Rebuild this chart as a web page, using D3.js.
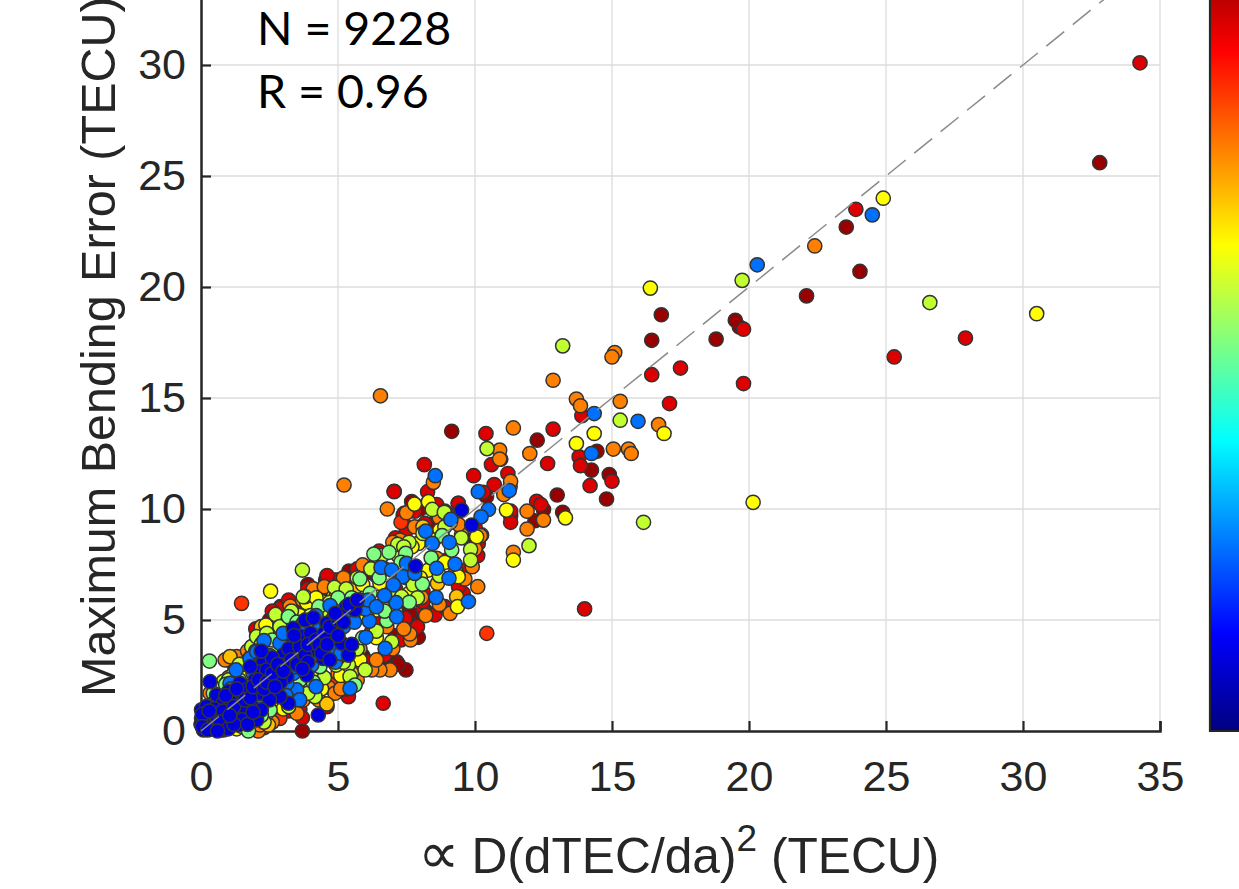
<!DOCTYPE html>
<html><head><meta charset="utf-8">
<script src="https://cdn.jsdelivr.net/npm/d3@7"></script>
<style>html,body{margin:0;padding:0;background:#fff;overflow:hidden}svg{display:block}</style>
</head><body><div id="chart"></div>
<script>
const xTicks=[0,5,10,15,20,25,30,35];
const yTicks=[0,5,10,15,20,25,30];
const annotations=["N = 9228","R = 0.96"];
const xLabel="D(dTEC/da)";
const yLabel="Maximum Bending Error (TECU)";
// Points per colour level, [x, y], painted in this order (reds lowest, blues on top)
const darkRed=[[32.8,25.6],[23.55,22.7],[24.05,20.7],[22.1,19.6],[19.65,18.2],[19.5,18.5],[18.8,17.65],[16.8,18.75],[16.45,17.6],[14.25,11.75],[14.9,11.55],[14.8,10.45],[14.45,12.6],[9.15,13.5],[12.27,13.1],[13,10.63],[12.5,9.98],[12.19,9.47],[7.05,10.8],[7.69,10.33],[7.38,9.73],[9.39,10.26],[10.42,10.56],[7.5,5.52],[7.69,5.15],[13.2,9.85],[4.55,6.8],[5.4,7.2],[3.7,0],[7.48,2.75],[7.93,4.22],[7.63,5.3],[4.46,6.13],[2.9,5.6],[5.9,3.4],[7.14,3.12],[11.3,9.7],[6.4,7.0],[3.9,6.6],[5,6.8],[6,7.1],[8,10],[8.4,9.3],[9.8,8.6],[8.2,5.4],[7.1,4.3],[6.6,3.1],[5.3,1.7],[2.5,5],[7.2,3]];
const red=[[34.27,30.1],[27.9,17.7],[25.3,16.85],[23.9,23.5],[19.8,18.1],[19.8,15.65],[17.5,16.35],[16.45,16.05],[17.1,14.75],[13.9,14.2],[13.8,12.35],[13.85,11.95],[15,11.25],[14.2,11.05],[14,5.5],[10.4,13.4],[12.85,13.6],[12.65,12.05],[10.6,12],[9.95,11.5],[8.15,12],[11.2,11.6],[10.7,11.1],[10.3,10.75],[12.25,10.35],[11.3,9.9],[11.3,9.4],[6.65,1.25],[7.05,10.78],[8.27,10.78],[7.41,9.8],[7.38,9.38],[7.5,9.05],[9.39,10.25],[10.24,8.83],[10.12,8.45],[5.38,1.55],[3.61,.98],[8.54,5.23],[8.1,5.5],[8.1,5.83],[7.45,5.08],[4.89,6.8],[2.88,5.53],[6.23,4.47],[6.1,3.12],[5.8,2.75],[5.07,1.85],[8.17,9.35],[9.57,6.2],[9.63,7.25],[8.97,7.7],[8.1,6.28],[12.4,10.2],[3.5,5.5],[4.2,1.6],[3.2,.9],[5.6,2.3],[6.6,4.9],[7.1,6.4],[1.9,.3],[2.7,.7],[1.2,3],[2,4.6],[2.6,5.4],[3.2,5.9],[3.9,6.4],[4.6,7],[5.7,7.3],[6.5,8.1],[7.1,8.7],[7.8,9.9],[8.6,10.2],[9.2,9.7],[10,9.2],[10.1,7.9],[9.4,6.5],[8.9,5.6],[7.9,4.7],[7.3,4.1],[6.7,3.4],[5.3,1.9],[4.6,1.1],[3.7,.6],[2.3,.15]];
const orangeRed=[[1.48,5.75],[10.43,4.4],[2.88,.57],[10.94,12.24],[11.28,11],[5.8,3.05],[4.9,2.3],[7.3,9.4],[8.9,9.9]];
const orange=[[22.4,21.85],[15.1,17.05],[15,16.85],[12.85,15.8],[15.3,14.85],[16.7,13.8],[13.7,14.95],[13.85,14.65],[15.05,12.7],[15.6,12.7],[15.7,12.5],[12,12.5],[10.9,12.65],[10.9,12.25],[11.4,13.65],[6.55,15.1],[5.22,11.08],[6.8,10],[11.3,11.25],[11.05,10.65],[11.9,9.9],[12.5,9.5],[11.9,9.1],[11.4,8.05],[7.5,9.83],[5.9,7.48],[3.25,5.63],[10.1,6.5],[9.09,5.3],[8.05,6.02],[8.6,7.78],[9.63,6.85],[9.51,8.86],[7.65,4.1],[7.62,4.37],[6.9,2.75],[6.53,2.75],[6.23,2.75],[6.78,4.7],[8.48,11.2],[4.65,1.97],[4.89,1.7],[5.8,3.72],[2.09,0],[.88,3.2],[5.44,6.5],[7.26,8.6],[.33,1.7],[3.73,1.4],[2.15,.27],[1.3,3.35],[2.76,1.1],[4.1,6.4],[6.2,7.3],[1.2,.2],[3.4,4.9],[5,2.6],[.5,1.4],[1,2.4],[1.7,3.6],[2.2,4.5],[2.8,5.1],[3.7,5.9],[4.5,6.5],[5.2,6.9],[6.4,7.8],[7,8.5],[7.8,9.2],[8.7,9.6],[9.4,9.3],[10,8.2],[9.3,7.2],[8.7,5.7],[8.2,5.2],[7.4,4.6],[7,3.7],[6.4,3.2],[5.7,2.3],[5.1,1.9],[4.3,1.4],[3.5,.8],[2.6,.4],[1.7,.1],[9.9,7.4],[10.2,8.8]];
const amber=[[1.06,3.35],[2.46,.27],[4.59,1.22],[8.63,6.65],[9.33,6.05],[3.25,1.4],[4.83,6.05],[6.78,5.6],[3.86,2],[3.9,5.5],[5.6,6.4],[7.5,6.9],[5.5,2.6],[2.2,4.7],[8.1,9.2],[6.2,5.4]];
const yellow=[[24.9,24],[30.5,18.8],[20.15,10.3],[16.4,19.95],[16.9,13.4],[14.35,13.4],[13.7,12.95],[11.15,9.95],[13.3,9.6],[11.4,7.7],[7.79,10.22],[8.3,10.33],[2.54,6.3],[2.37,4.77],[3.86,5.78],[3.8,6.05],[7.93,8.45],[10.06,8.75],[9.36,5.6],[6.41,5.45],[4.4,5.83],[4.95,6.13],[8.72,9.05],[9.39,6.95],[6.53,6.65],[4.34,2.45],[8.3,7.25],[2.76,1.4],[2.4,.95],[4.04,4.7],[6.05,5.15],[5.2,2.9],[5.68,3.5],[3.3,3],[1.6,2.6],[.9,1.3],[1.2,2.6],[1.8,3.3],[2.5,4.2],[3,4.6],[3.6,5.2],[4.2,6],[4.6,5.5],[5.3,6.1],[5.9,6.6],[6.7,7.3],[7.2,7.9],[7.7,8.3],[8.5,8.6],[9.1,9.4],[8.9,7.6],[8,6.9],[7.6,6.2],[6.9,5.2],[6.4,4.2],[5.8,3.2],[5.1,2.5],[4.4,1.9],[3.6,1.5],[3,1],[2.1,.6],[1.3,.1]];
const yellowGreen=[[26.6,19.3],[19.75,20.3],[13.2,17.35],[15.3,14],[16.15,9.4],[10.44,12.72],[11.97,8.35],[3.7,7.25],[2.72,5.25],[4.87,6.47],[7.18,8.41],[7.59,8.5],[8.44,9.98],[8.88,9.85],[9.84,8.18],[9.84,7.7],[6.96,6.05],[7.75,6.58],[4.93,2.97],[5.38,2.97],[5.99,2.75],[6.96,4.02],[4.16,1.55],[5.44,2.45],[4.1,4.85],[1.85,3.8],[.81,2.22],[7.32,6.05],[2.88,4.7],[2.64,3.8],[2.03,4.25],[3.73,6.05],[2.88,1.7],[2.4,.8],[1.5,3],[3.5,2.1],[4.6,3.5],[1.2,.6],[5.2,5.3],[4.4,5.4],[1,2.3],[1.4,3],[2.2,3.9],[2.4,4.4],[3.2,4.3],[3.3,5.4],[4,5.2],[4.7,5.8],[5.3,6.4],[5.7,6.9],[6.2,7.3],[6.6,7.9],[7.4,8.3],[8.1,8.9],[8.9,9.2],[9.5,8.7],[8.7,7],[7.9,6],[7.1,5.4],[6.4,4.5],[5.7,3.7],[5.2,3.1],[4.5,2.4],[3.9,1.7],[3.2,1.1],[2.3,.4],[1.5,.2],[.5,1.9]];
const green=[[.31,3.15],[3.19,5.15],[5.8,6.85],[6.31,7.97],[6.86,8.05],[7.47,8],[8.08,6.62],[9.15,8.15],[6.78,4.97],[6.17,6.2],[5.62,2.07],[.45,1.7],[1.73,0],[3.61,2.3],[2.52,.95],[.82,.05],[4.34,2.9],[1.4,2.3],[2.3,2.1],[4.7,4.2],[1.75,.55],[.7,.9],[5.1,5],[3.1,3.8],[.9,2.1],[2,3.6],[2.6,4.1],[3.5,4.9],[4.3,5.6],[5,6],[5.5,6],[6.5,6.9],[7.3,7.6],[8.4,7.8],[8.8,8.8],[7.6,5.8],[6.7,5.4],[5.9,4.2],[5,3.3],[4.1,2.2],[3.1,1.4],[2.2,.7],[1,.2]];
const blue=[[24.5,23.25],[20.3,21],[14.35,14.3],[15.95,13.95],[14.25,12.5],[8.55,11.5],[10.12,10.78],[11.25,10.83],[10.49,9.98],[10.22,9.65],[9.12,9.53],[8.2,9],[8.44,8.45],[9.06,8.5],[6.57,7.37],[6.96,7.25],[7.5,7.55],[7.36,6.95],[7.02,6.58],[8.6,7.33],[9.27,7.52],[9.05,6.88],[8.58,6.02],[9.76,5.83],[7.12,5.78],[7.14,5.15],[6.72,3.72],[6.02,4.22],[6.14,4.95],[4.71,5.65],[2.3,4.07],[5.44,1.92],[4.2,2],[1.79,3.27],[1.28,2.75],[3.49,1.85],[4.95,4.92],[2.88,3.95],[2.03,3.57],[1.06,2.15],[3.13,2.15],[2.34,2],[1.55,1.4],[4.71,3.65],[4.04,2.97],[3.37,2.6],[.69,.8],[.75,1.45],[5.9,5.6],[6,5.5],[7.8,7.1],[3.9,3.2],[1.5,1.9],[1.9,2.6],[2.5,3.4],[2.7,2.9],[3.2,3.3],[3.6,3.6],[3.4,2.9],[4.1,3.4],[4.4,4.1],[4.3,4.6],[4.8,4.6],[5.2,4.7],[5.3,5.2],[5.6,4.9],[5.8,5.9],[6.1,5.9],[6.4,5.6],[6.7,6.1],[1.1,1.9],[2,1.3],[2.7,1.7],[3.1,1.6],[.4,1.2],[.9,.5],[1.4,.8],[2.2,3.1],[3,4.4],[3.7,4.8],[4.2,5.2],[4.9,3.1],[5.1,3.5],[3.6,1.4],[2.1,2.1]];
const darkBlue=[[9.51,9.95],[9.88,9.28],[7.83,7.43],[5.68,5.83],[5.62,5.45],[3.8,5],[4.59,4.85],[4.83,4.4],[3.37,4.62],[3.67,4.25],[5.13,3.95],[5.38,3.42],[4.46,3.27],[2.27,3.12],[3,3.42],[2.88,2.75],[2.15,2.67],[1.42,2.15],[1,1.77],[.57,1.62],[3.86,2.52],[3.19,1.25],[2.88,1.55],[4.28,.72],[2.03,.5],[1.67,.8],[1.06,.95],[.63,.2],[.02,.57],[.02,.95],[.33,2.22],[2.52,2.3],[1.97,2.3],[3.49,3.5],[3.98,3.87],[4.22,3.65],[3.37,3.95],[2.4,2.75],[3.13,2.45],[1.67,1.85],[2.15,1.7],[1.3,1.55],[.8,1.25],[.45,.8],[.33,.27],[.94,.35],[1.36,.27],[1.85,1.1],[.09,.05],[.2,1.1],[0,.3],[.5,.5],[1.2,.6],[1.5,1.1],[.3,.6],[.7,.05],[2.5,1.4],[2.9,2.2],[4,4.4],[3.1,3],[2.6,3.3],[1.8,2.9],[1.1,1.3],[.15,.15],[.1,.4],[.2,.8],[.4,.1],[.5,1],[.6,.6],[.8,.9],[.9,1.6],[1.2,1.1],[1.3,1.9],[1.5,.5],[1.6,1.4],[1.8,1.5],[1.9,2],[2.1,2.3],[2.3,1.9],[2.4,2.2],[2.6,2.6],[2.7,2],[2.8,3],[3,2.7],[3.2,3.7],[3.3,3.2],[3.5,3],[3.6,3.8],[3.8,3.4],[3.9,3.9],[4.2,4.1],[4.3,3.9],[4.5,4.4],[4.7,4.7],[5,4.3],[5.3,5.6],[5.4,5.7],[.05,.75],[.05,.2],[.3,.9],[.7,.4],[1,.1],[1.2,.3],[1.7,.3],[.25,.05],[.6,0],[1.05,.7],[2.2,.95],[1.9,.85],[3.9,3.1],[4.4,3.5],[4.6,3.9],[5,5],[5.2,4.9],[4.9,5.3],[4.1,5.1],[3.4,4.3],[5.5,3.9],[4.7,3.2],[3.7,2.8],[2.2,3.6],[5.7,5.9]];
const levels=[[darkRed,"#990000"],[red,"#dc0000"],[orangeRed,"#ff3300"],[orange,"#ff8000"],[amber,"#ffc000"],[yellow,"#ffff00"],[yellowGreen,"#c0ff30"],[green,"#80ff80"],[blue,"#0070ff"],[darkBlue,"#0000dc"]];
const jetStops=[[0,"#000080"],[.125,"#0000ff"],[.375,"#00ffff"],[.625,"#ffff00"],[.875,"#ff0000"],[1,"#800000"]];

const W=1239,H=889,ink="#262626",sans="'Liberation Sans',Arial,sans-serif";
const svg=d3.select("#chart").append("svg").attr("width",W).attr("height",H);
const x=d3.scaleLinear().domain([0,35]).range([201,1160]);
const y=d3.scaleLinear().domain([0,35]).range([731,-46]);

svg.append("g").selectAll("line").data(xTicks.slice(1)).join("line")
 .attr("x1",x).attr("x2",x).attr("y1",y(0)).attr("y2",0).attr("stroke","#dcdcdc").attr("stroke-width",1.3);
svg.append("g").selectAll("line").data(yTicks.slice(1)).join("line")
 .attr("y1",y).attr("y2",y).attr("x1",x(0)).attr("x2",x(35)).attr("stroke","#dcdcdc").attr("stroke-width",1.3);

const xAxis=svg.append("g").attr("transform",`translate(0,${y(0)})`)
 .call(d3.axisBottom(x).tickValues(xTicks).tickFormat(d3.format("d")).tickSize(-10).tickPadding(29));
const yAxis=svg.append("g").attr("transform",`translate(${x(0)},0)`)
 .call(d3.axisLeft(y).tickValues(yTicks).tickFormat(d3.format("d")).tickSize(-10).tickPadding(15));
[xAxis,yAxis].forEach(a=>{
 a.selectAll("text").attr("font-family",sans).attr("font-size",43).attr("fill",ink);
 a.selectAll("line").attr("stroke",ink).attr("stroke-width",2.2);
 a.select(".domain").attr("stroke",ink).attr("stroke-width",2.5);
});

const g=svg.append("g");
levels.forEach(([pts,c])=>{
 g.append("g").selectAll("circle").data(pts).join("circle")
  .attr("cx",d=>x(d[0])).attr("cy",d=>y(d[1])).attr("r",7.1)
  .attr("fill",c).attr("stroke","#333").attr("stroke-width",1.5);
});

svg.append("line").attr("x1",x(0)).attr("y1",y(0)).attr("x2",x(35)).attr("y2",y(35))
 .attr("stroke","#8a8a8a").attr("stroke-width",1.5).attr("stroke-dasharray","23 11");

const txt=svg.append("g").attr("font-family","Lato,Carlito,sans-serif").attr("font-size",46.5).attr("fill","#000");
txt.selectAll("text").data(annotations).join("text").attr("x",257).attr("y",(d,i)=>45+i*63).text(d=>d);

const xl=svg.append("text").attr("x",418).attr("y",873).attr("font-family",sans).attr("font-size",49.7).attr("fill",ink);
xl.append("tspan").attr("font-family","'DejaVu Sans'").attr("font-size",58).text("∝");
xl.append("tspan").attr("dx",12).text(xLabel);
xl.append("tspan").attr("dy",-22).attr("font-size",37).text("2");
xl.append("tspan").attr("dy",22).text(" (TECU)");

svg.append("text").attr("transform","translate(115,697) rotate(-90)").attr("font-family",sans)
 .attr("font-size",48.5).attr("fill",ink).text(yLabel);

const defs=svg.append("defs");
const lg=defs.append("linearGradient").attr("id","jet").attr("x1",0).attr("x2",0).attr("y1",1).attr("y2",0);
lg.selectAll("stop").data(jetStops).join("stop").attr("offset",d=>d[0]).attr("stop-color",d=>d[1]);
svg.append("rect").attr("x",1210).attr("y",y(35)).attr("width",40).attr("height",y(0)-y(35)).attr("fill","url(#jet)");
svg.append("path").attr("d",`M1210,0V${y(0)}H1239`).attr("fill","none").attr("stroke",ink).attr("stroke-width",2.2);
</script></body></html>
